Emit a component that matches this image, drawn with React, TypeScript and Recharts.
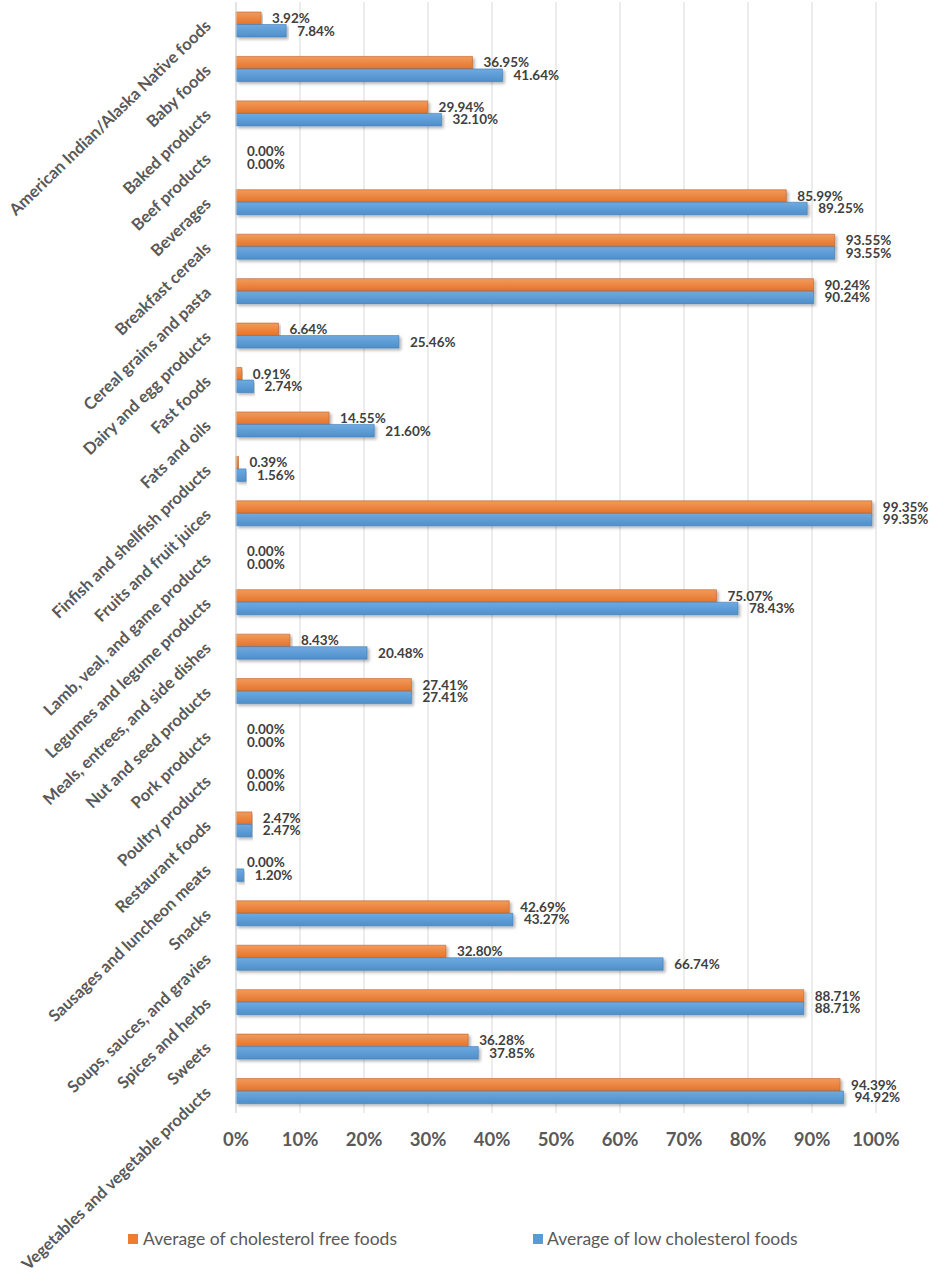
import { BarChart, Bar, XAxis, YAxis, CartesianGrid, LabelList, Cell } from 'recharts';

const categories = [
  'American Indian/Alaska Native foods',
  'Baby foods',
  'Baked products',
  'Beef products',
  'Beverages',
  'Breakfast cereals',
  'Cereal grains and pasta',
  'Dairy and egg products',
  'Fast foods',
  'Fats and oils',
  'Finfish and shellfish products',
  'Fruits and fruit juices',
  'Lamb, veal, and game products',
  'Legumes and legume products',
  'Meals, entrees, and side dishes',
  'Nut and seed products',
  'Pork products',
  'Poultry products',
  'Restaurant foods',
  'Sausages and luncheon meats',
  'Snacks',
  'Soups, sauces, and gravies',
  'Spices and herbs',
  'Sweets',
  'Vegetables and vegetable products',
];

const cholesterolFree = [
  3.92, 36.95, 29.94, 0, 85.99, 93.55, 90.24, 6.64, 0.91, 14.55, 0.39, 99.35, 0,
  75.07, 8.43, 27.41, 0, 0, 2.47, 0, 42.69, 32.8, 88.71, 36.28, 94.39,
];

const lowCholesterol = [
  7.84, 41.64, 32.1, 0, 89.25, 93.55, 90.24, 25.46, 2.74, 21.6, 1.56, 99.35, 0,
  78.43, 20.48, 27.41, 0, 0, 2.47, 1.2, 43.27, 66.74, 88.71, 37.85, 94.92,
];

const xTicks = [0, 10, 20, 30, 40, 50, 60, 70, 80, 90, 100];

const data = categories.map((name, i) => ({
  name,
  free: cholesterolFree[i],
  low: lowCholesterol[i],
}));

const FONT = 'Lato, "Open Sans", sans-serif';
const ORANGE = '#ED7D31';
const BLUE = '#5B9BD5';

function CategoryTick({ x, y, payload }: any) {
  const ax = x - 16;
  const ay = y + 3;
  return (
    <text
      x={ax}
      y={ay}
      transform={`rotate(-44, ${ax}, ${ay})`}
      textAnchor="end"
      fill="#595959"
      fontFamily={FONT}
      fontWeight={700}
      fontSize={16.5}
    >
      {payload.value}
    </text>
  );
}

const pct = (v: number) => `${Number(v).toFixed(2)}%`;

const valueLabel = {
  position: 'right' as const,
  offset: 11,
  formatter: pct,
  fill: '#404040',
  fontFamily: FONT,
  fontWeight: 700,
  fontSize: 13.5,
};

export default function App() {
  return (
    <div style={{ position: 'absolute', left: 0, top: 0, width: 929, height: 1280, background: '#fff' }}>
      <BarChart
        width={929}
        height={1280}
        data={data}
        layout="vertical"
        margin={{ top: 2, right: 53, left: 0, bottom: 137 }}
        barSize={12.5}
        barGap={0}
      >
        <defs>
          <linearGradient id="gOrange" x1="0" y1="0" x2="0" y2="1">
            <stop offset="0%" stopColor="#F39A5B" />
            <stop offset="100%" stopColor="#E4742A" />
          </linearGradient>
          <linearGradient id="gBlue" x1="0" y1="0" x2="0" y2="1">
            <stop offset="0%" stopColor="#6FAAE0" />
            <stop offset="100%" stopColor="#4E8FCB" />
          </linearGradient>
          <filter id="shadow" x="-5%" y="-30%" width="110%" height="180%">
            <feDropShadow dx="2" dy="2" stdDeviation="1.5" floodColor="#000" floodOpacity="0.3" />
          </filter>
        </defs>
        <CartesianGrid horizontal={false} stroke="#d9d9d9" />
        <XAxis
          type="number"
          domain={[0, 100]}
          ticks={xTicks}
          tickFormatter={(v) => `${v}%`}
          axisLine={false}
          tickLine={false}
          height={30}
          tickMargin={14}
          tick={{ fill: '#595959', fontFamily: FONT, fontWeight: 700, fontSize: 18.5 }}
        />
        <YAxis
          type="category"
          dataKey="name"
          width={236}
          axisLine={{ stroke: '#d9d9d9' }}
          tickLine={false}
          interval={0}
          tick={<CategoryTick />}
        />
        <Bar dataKey="free" fill="url(#gOrange)" minPointSize={0.01} isAnimationActive={false}>
          {cholesterolFree.map((v, i) => (
            <Cell
              key={`f-${i}`}
              stroke={v > 0 ? '#C0622A' : 'none'}
              strokeWidth={0.6}
              filter={v > 0 ? 'url(#shadow)' : undefined}
            />
          ))}
          <LabelList dataKey="free" {...valueLabel} />
        </Bar>
        <Bar dataKey="low" fill="url(#gBlue)" minPointSize={0.01} isAnimationActive={false}>
          {lowCholesterol.map((v, i) => (
            <Cell
              key={`l-${i}`}
              stroke={v > 0 ? '#3F7CB6' : 'none'}
              strokeWidth={0.6}
              filter={v > 0 ? 'url(#shadow)' : undefined}
            />
          ))}
          <LabelList dataKey="low" {...valueLabel} />
        </Bar>
      </BarChart>
      <div
        style={{
          position: 'absolute',
          top: 1228,
          left: 0,
          width: 929,
          fontFamily: FONT,
          fontSize: 17.5,
          color: '#595959',
        }}
      >
        <span style={{ position: 'absolute', left: 128, top: 6, width: 10, height: 10, background: ORANGE }} />
        <span style={{ position: 'absolute', left: 143, top: 0, whiteSpace: 'nowrap' }}>
          Average of cholesterol free foods
        </span>
        <span style={{ position: 'absolute', left: 533, top: 6, width: 10, height: 10, background: BLUE }} />
        <span style={{ position: 'absolute', left: 547, top: 0, whiteSpace: 'nowrap' }}>
          Average of low cholesterol foods
        </span>
      </div>
    </div>
  );
}
